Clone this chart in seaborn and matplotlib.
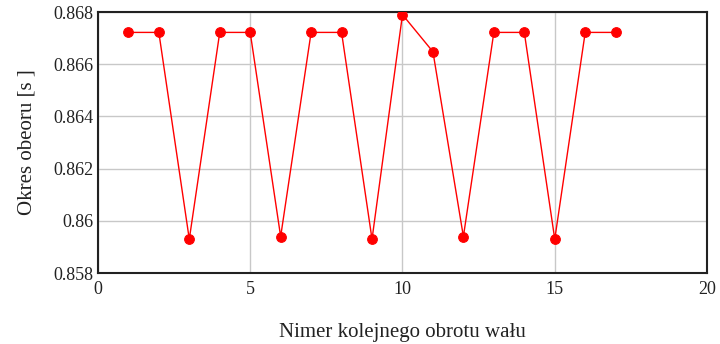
import matplotlib
matplotlib.use("Agg")
import matplotlib.pyplot as plt
import seaborn as sns
import pandas as pd

revolutions = [1, 2, 3, 4, 5, 6, 7, 8, 9, 10, 11, 12, 13, 14, 15, 16, 17]
periods = [0.86722, 0.86722, 0.85930, 0.86722, 0.86722, 0.85940, 0.86722, 0.86722,
           0.85930, 0.86790, 0.86648, 0.85940, 0.86722, 0.86722, 0.85930, 0.86722, 0.86722]
x_ticks = [0, 5, 10, 15, 20]
y_ticks = [0.858, 0.86, 0.862, 0.864, 0.866, 0.868]
y_tick_labels = ["0.858", "0.86", "0.862", "0.864", "0.866", "0.868"]

df = pd.DataFrame({"rev": revolutions, "period": periods})

sns.set_style("white")
plt.rcParams['font.family'] = ['Liberation Serif', 'DejaVu Serif']

fig = plt.figure(figsize=(7.2, 3.44), dpi=100)
ax = fig.add_axes([0.136, 0.206, 0.846, 0.759])

sns.lineplot(data=df, x="rev", y="period", ax=ax, color="#ff0000", linewidth=1.0,
             marker="o", markersize=7, markeredgecolor="#ff0000", markerfacecolor="#ff0000",
             zorder=3)

ax.set_xlim(0, 20)
ax.set_ylim(0.858, 0.868)
ax.set_xticks(x_ticks)
ax.set_yticks(y_ticks)
ax.set_yticklabels(y_tick_labels)
ax.grid(True, color="#c8c8c8", linewidth=1.0)
ax.tick_params(axis="both", length=0, labelsize=13, colors="#222222", pad=3)
ax.tick_params(axis="x", pad=6)
for s in ax.spines.values():
    s.set_color("#222222")
    s.set_linewidth(1.5)
    s.set_visible(True)

ax.set_xlabel("Nimer kolejnego obrotu wału", fontsize=15, labelpad=18, color="#222222")
ax.set_ylabel("Okres obeoru [s ]", fontsize=15, labelpad=12, color="#222222")

fig.savefig("out.png", dpi=100)
